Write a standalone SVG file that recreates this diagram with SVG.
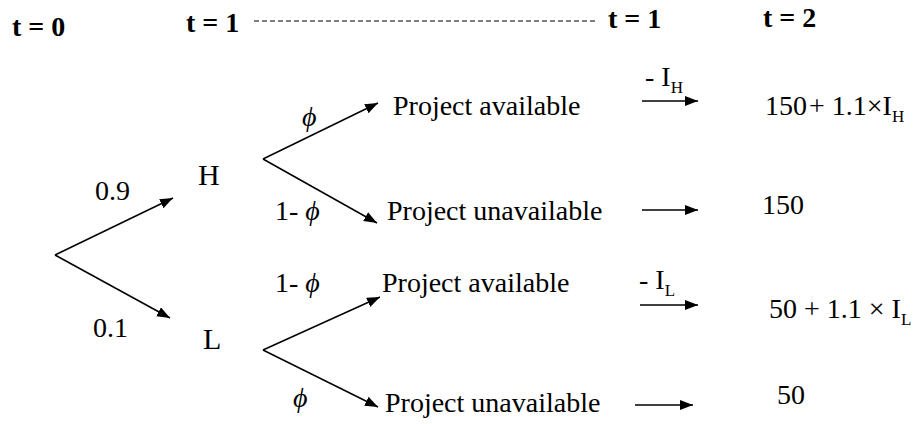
<svg xmlns="http://www.w3.org/2000/svg" width="917" height="424" viewBox="0 0 917 424" font-family="Liberation Serif, Tinos, DejaVu Serif, serif">
<style>
text{font-family:'Liberation Serif','Tinos','DejaVu Serif',serif;fill:#000;font-size:28px}
.hd{font-weight:bold}
.nd{font-size:30px}
.sub{font-size:17px}
.phi{font-style:italic}
.ar{stroke:#000;stroke-width:1.5;fill:none;marker-end:url(#ah)}
</style>
<defs>
<marker id="ah" markerUnits="userSpaceOnUse" markerWidth="14" markerHeight="12" refX="13" refY="5" orient="auto">
<path d="M0,0 L13,5 L0,10 Z" fill="#000"/>
</marker>
</defs>
<rect width="917" height="424" fill="#fff"/>
<g id="headers">
<text class="hd" x="12" y="36">t = 0</text>
<text class="hd" x="186" y="32">t = 1</text>
<line x1="254" y1="21" x2="595" y2="21" stroke="#000" stroke-width="1" stroke-dasharray="5,3"/>
<text class="hd" x="608" y="28">t = 1</text>
<text class="hd" x="763" y="27">t = 2</text>
</g>
<g id="connectors">
<line class="ar" x1="55" y1="255" x2="173" y2="198"/>
<line class="ar" x1="55" y1="255" x2="170" y2="318"/>
<line class="ar" x1="263" y1="159" x2="378" y2="103"/>
<line class="ar" x1="263" y1="159" x2="377" y2="223"/>
<line class="ar" x1="263" y1="350" x2="380" y2="297"/>
<line class="ar" x1="263" y1="350" x2="378" y2="407"/>
<line class="ar" x1="642" y1="101" x2="698" y2="101"/>
<line class="ar" x1="642" y1="210" x2="698" y2="210"/>
<line class="ar" x1="640" y1="305" x2="698" y2="305"/>
<line class="ar" x1="635" y1="405" x2="693" y2="405"/>
</g>
<g id="edge-labels">
<text x="95" y="200">0.9</text>
<text x="93" y="337">0.1</text>
<text class="phi" x="302" y="126">ϕ</text>
<text x="275" y="220">1- <tspan class="phi">ϕ</tspan></text>
<text x="275" y="292">1- <tspan class="phi">ϕ</tspan></text>
<text class="phi" x="293" y="407">ϕ</text>
<text x="645" y="86">- I<tspan class="sub" dy="7">H</tspan></text>
<text x="639" y="289">- I<tspan class="sub" dy="7">L</tspan></text>
</g>
<g id="node-H"><text class="nd" x="198" y="185">H</text></g>
<g id="node-L"><text class="nd" x="203" y="349">L</text></g>
<g id="node-H-avail"><text x="393" y="115">Project available</text></g>
<g id="node-H-unavail"><text x="387" y="220">Project unavailable</text></g>
<g id="node-L-avail"><text x="382" y="292">Project available</text></g>
<g id="node-L-unavail"><text x="385" y="412">Project unavailable</text></g>
<g id="payoff-H-avail"><text x="765" y="115">150<tspan dx="2">+</tspan> 1.1×I<tspan class="sub" dy="7">H</tspan></text></g>
<g id="payoff-H-unavail"><text x="762" y="214">150</text></g>
<g id="payoff-L-avail"><text x="769" y="318">50 + 1.1 × I<tspan class="sub" dy="7">L</tspan></text></g>
<g id="payoff-L-unavail"><text x="777" y="404">50</text></g>
</svg>
